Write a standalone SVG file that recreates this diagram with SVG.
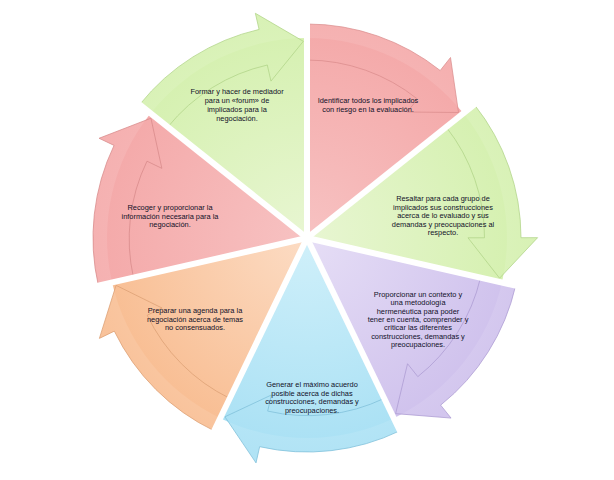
<svg xmlns="http://www.w3.org/2000/svg" width="614" height="480" viewBox="0 0 614 480">
<defs>
<radialGradient id="gR" gradientUnits="userSpaceOnUse" cx="0" cy="0" r="220"><stop offset="0" stop-color="#f7c2c2"/><stop offset="1" stop-color="#f4a8a8"/></radialGradient>
<radialGradient id="gG" gradientUnits="userSpaceOnUse" cx="0" cy="0" r="220"><stop offset="0" stop-color="#e8f6d2"/><stop offset="1" stop-color="#d4f0ae"/></radialGradient>
<radialGradient id="gP" gradientUnits="userSpaceOnUse" cx="0" cy="0" r="220"><stop offset="0" stop-color="#e6def6"/><stop offset="1" stop-color="#cec0ec"/></radialGradient>
<radialGradient id="gB" gradientUnits="userSpaceOnUse" cx="0" cy="0" r="220"><stop offset="0" stop-color="#d0f0fa"/><stop offset="1" stop-color="#a8e0f4"/></radialGradient>
<radialGradient id="gO" gradientUnits="userSpaceOnUse" cx="0" cy="0" r="220"><stop offset="0" stop-color="#fcdcc4"/><stop offset="1" stop-color="#f8bc90"/></radialGradient>
<path id="body" d="M0,0 L0,-200 A200,200 0 0 1 156.3,-124.7 Z"/>
<path id="band" d="M0,-214 A214,214 0 0 1 133.2,-167.5 L143.5,-180.5 L151.5,-125.5 L100.2,-126.0 L110.5,-138.9 A178,178 0 0 0 0,-178 Z"/>
</defs>
<style>
.lbl{font-family:"Liberation Sans",Arial,sans-serif;font-size:7.4px;fill:#101028;text-anchor:middle}
.band{fill-opacity:0.9;stroke-width:0.7}
</style>
<rect width="614" height="480" fill="#ffffff"/>
<g id="n0" transform="translate(307,238) rotate(0)"><use href="#body" fill="url(#gR)"/><use href="#band" class="band" fill="url(#gR)" stroke="#d88a8a"/></g>
<g id="n1" transform="translate(307,238) rotate(51.43)"><use href="#body" fill="url(#gG)"/><use href="#band" class="band" fill="url(#gG)" stroke="#b0d488"/></g>
<g id="n2" transform="translate(307,238) rotate(102.86)"><use href="#body" fill="url(#gP)"/><use href="#band" class="band" fill="url(#gP)" stroke="#ac9ad2"/></g>
<g id="n3" transform="translate(307,238) rotate(154.29)"><use href="#body" fill="url(#gB)"/><use href="#band" class="band" fill="url(#gB)" stroke="#80c0da"/></g>
<g id="n4" transform="translate(307,238) rotate(205.71)"><use href="#body" fill="url(#gO)"/><use href="#band" class="band" fill="url(#gO)" stroke="#dca074"/></g>
<g id="n5" transform="translate(307,238) rotate(257.14)"><use href="#body" fill="url(#gR)"/><use href="#band" class="band" fill="url(#gR)" stroke="#d88a8a"/></g>
<g id="n6" transform="translate(307,238) rotate(308.57)"><use href="#body" fill="url(#gG)"/><use href="#band" class="band" fill="url(#gG)" stroke="#b0d488"/></g>
<g id="gaps" stroke="#ffffff" stroke-width="6">
<line x1="307" y1="238" x2="307" y2="8"/>
<line x1="307" y1="238" x2="486.8" y2="94.6"/>
<line x1="307" y1="238" x2="531.2" y2="289.2"/>
<line x1="307" y1="238" x2="406.8" y2="445.2"/>
<line x1="307" y1="238" x2="207.2" y2="445.2"/>
<line x1="307" y1="238" x2="82.8" y2="289.2"/>
<line x1="307" y1="238" x2="127.2" y2="94.6"/>
</g>
<g id="labels" class="lbl">
<text class="lbl" x="237" y="94">Formar y hacer de mediador</text>
<text class="lbl" x="237" y="103">para un «forum» de</text>
<text class="lbl" x="237" y="112">implicados para la</text>
<text class="lbl" x="237" y="121">negociación.</text>
<text class="lbl" x="368" y="103">Identificar todos los implicados</text>
<text class="lbl" x="368" y="112">con riesgo en la evaluación.</text>
<text class="lbl" x="443" y="201">Resaltar para cada grupo de</text>
<text class="lbl" x="443" y="209.5">implicados sus construcciones</text>
<text class="lbl" x="443" y="218">acerca de lo evaluado y sus</text>
<text class="lbl" x="443" y="226.5">demandas y preocupaciones al</text>
<text class="lbl" x="443" y="235">respecto.</text>
<text class="lbl" x="170" y="210">Recoger y proporcionar la</text>
<text class="lbl" x="170" y="218.5">información necesaria para la</text>
<text class="lbl" x="170" y="227">negociación.</text>
<text class="lbl" x="195" y="313">Preparar una agenda para la</text>
<text class="lbl" x="195" y="321.5">negociación acerca de temas</text>
<text class="lbl" x="195" y="330">no consensuados.</text>
<text class="lbl" x="418" y="297">Proporcionar un contexto y</text>
<text class="lbl" x="418" y="305.3">una metodología</text>
<text class="lbl" x="418" y="313.6">hermenéutica para poder</text>
<text class="lbl" x="418" y="321.9">tener en cuenta, comprender y</text>
<text class="lbl" x="418" y="330.2">criticar las diferentes</text>
<text class="lbl" x="418" y="338.5">construcciones, demandas y</text>
<text class="lbl" x="418" y="346.8">preocupaciones.</text>
<text class="lbl" x="312" y="387">Generar el máximo acuerdo</text>
<text class="lbl" x="312" y="395.5">posible acerca de dichas</text>
<text class="lbl" x="312" y="404">construcciones, demandas y</text>
<text class="lbl" x="312" y="412.5">preocupaciones.</text>
</g>
</svg>
